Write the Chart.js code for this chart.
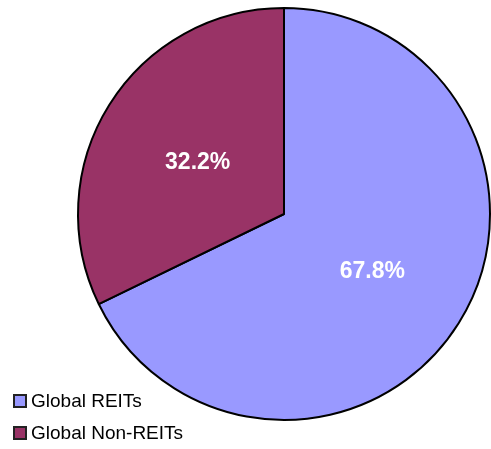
<!DOCTYPE html>
<html>
<head>
<meta charset="utf-8">
<script src="https://cdn.jsdelivr.net/npm/chart.js@4/dist/chart.umd.min.js"></script>
<style>
body{margin:0;background:#fff;font-family:"Liberation Sans",Arial,sans-serif}
#wrap{position:relative;width:491px;height:449px}
#legend{position:absolute;left:13px;top:385px}
.item{display:flex;align-items:center;height:32px;font-size:19px;color:#000}
.sw{width:10px;height:10px;border:2px solid #222;margin-right:4px}
</style>
</head>
<body>
<div id="wrap">
<canvas id="pie" width="491" height="449"></canvas>
<div id="legend"></div>
</div>
<script>
const labels=['Global REITs','Global Non-REITs'];
const values=[67.8,32.2];
const colors=['#9999FF','#993366'];

// white % labels in the middle of each slice
const sliceLabels={id:'sliceLabels',afterDatasetsDraw(chart){
  const ctx=chart.ctx;const meta=chart.getDatasetMeta(0);
  ctx.save();ctx.fillStyle='#fff';ctx.font='bold 23px "Liberation Sans", Arial, sans-serif';
  ctx.textAlign='center';ctx.textBaseline='middle';
  meta.data.forEach((arc,i)=>{const p=arc.tooltipPosition();ctx.fillText(values[i].toFixed(1)+'%',p.x+1,p.y+3)});
  ctx.restore();
}};

new Chart(document.getElementById('pie'),{
  type:'pie',
  data:{labels,datasets:[{data:values,backgroundColor:colors,borderColor:'#000',borderWidth:2}]},
  options:{responsive:false,animation:false,
    layout:{padding:{left:77,right:0,top:7,bottom:28}},
    plugins:{legend:{display:false},tooltip:{enabled:false}}},
  plugins:[sliceLabels]
});

const legendDiv=document.getElementById('legend');
labels.forEach((l,i)=>{
  const it=document.createElement('div');it.className='item';
  it.innerHTML=`<span class="sw" style="background:${colors[i]}"></span>${l}`;
  legendDiv.appendChild(it);
});
</script>
</body>
</html>
